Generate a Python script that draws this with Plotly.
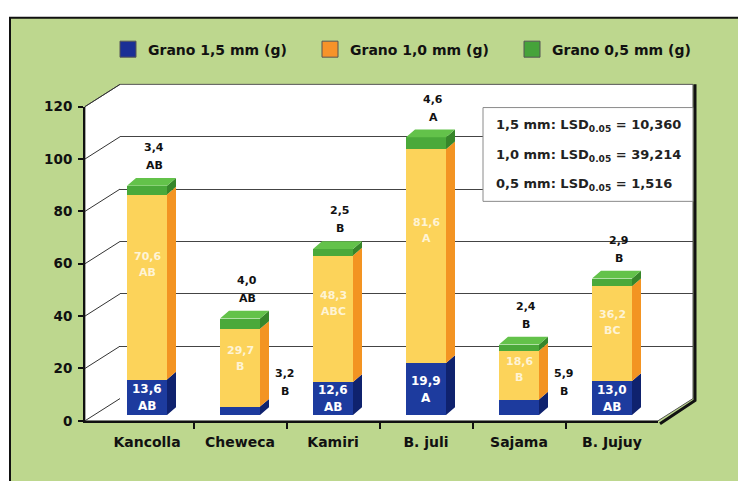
import plotly.graph_objects as go

# ---- data -------------------------------------------------------------
categories = ["Kancolla", "Cheweca", "Kamiri", "B. juli", "Sajama", "B. Jujuy"]
grano_15 = [13.6, 3.2, 12.6, 19.9, 5.9, 13.0]
grano_10 = [70.6, 29.7, 48.3, 81.6, 18.6, 36.2]
grano_05 = [3.4, 4.0, 2.5, 4.6, 2.4, 2.9]
letras_15 = ["AB", "B", "AB", "A", "B", "AB"]
letras_10 = ["AB", "B", "ABC", "A", "B", "BC"]
letras_05 = ["AB", "AB", "B", "A", "B", "B"]
series_names = ["Grano 1,5 mm (g)", "Grano 1,0 mm (g)", "Grano 0,5 mm (g)"]
lsd_lines = [("1,5 mm", "10,360"), ("1,0 mm", "39,214"), ("0,5 mm", "1,516")]
y_ticks = [0, 20, 40, 60, 80, 100, 120]

# ---- geometry (pixels) ------------------------------------------------
W, H = 738, 481
X0, X1 = 85, 658          # front plot box, left/right
Y0, Y1 = 427, 102         # front plot box, value 0 / value 120
DX, DY = 35, 23           # depth of the back wall
BAR_UP = 6                # bars stand slightly back on the floor
SIDE_PX, TOP_PX = 9, 8    # bar side / top face
STEP = 93                 # pixels per category
XMIN = -(147 - X0) / STEP
XMAX = XMIN + (X1 - X0) / STEP
YMAX = 120
PX_PER_UNIT = (Y0 - Y1) / YMAX
BAR_W = 0.43
DXU = SIDE_PX / STEP
DYU = TOP_PX / PX_PER_UNIT

FONT = "DejaVu Sans"


def px(x):
    return x / W


def py(y):
    return 1 - y / H


def fmt(v):
    return f"{v:.1f}".replace(".", ",")


front_col = ["#1d3b9e", "#fcd35a", "#4aa93a"]
side_col = ["#0f226e", "#f39422", "#37862a"]
top_col = "#63c24a"
legend_col = ["#1a2f95", "#f7932a", "#46a33a"]

fig = go.Figure()

# back wall subplot (grid only)
fig.add_trace(go.Scatter(x=[None], y=[None], xaxis="x", yaxis="y",
                         showlegend=False, hoverinfo="skip"))
# front axes subplot (axis lines, ticks, labels)
fig.add_trace(go.Scatter(x=[None], y=[None], xaxis="x2", yaxis="y2",
                         showlegend=False, hoverinfo="skip"))

# ---- stacked bars -----------------------------------------------------
xs = list(range(len(categories)))
stack = [grano_15, grano_10, grano_05]
bases = []
running = [0.0] * len(xs)
for vals in stack:
    bases.append(running[:])
    running = [r + v for r, v in zip(running, vals)]
totals = running

for k, vals in enumerate(stack):
    fig.add_trace(go.Bar(x=xs, y=vals, width=BAR_W, xaxis="x3", yaxis="y3",
                         marker=dict(color=front_col[k], line=dict(width=0)),
                         showlegend=False, hoverinfo="skip"))
    # right side faces
    sx, sy = [], []
    for i in xs:
        b, t = bases[k][i], bases[k][i] + vals[i]
        r = i + BAR_W / 2
        sx += [r, r + DXU, r + DXU, r, r, None]
        sy += [b, b + DYU, t + DYU, t, b, None]
    fig.add_trace(go.Scatter(x=sx, y=sy, xaxis="x3", yaxis="y3", mode="lines",
                             fill="toself", fillcolor=side_col[k],
                             line=dict(width=0, color=side_col[k]),
                             showlegend=False, hoverinfo="skip"))

# top faces
tx, ty = [], []
for i in xs:
    l, r, t = i - BAR_W / 2, i + BAR_W / 2, totals[i]
    tx += [l, r, r + DXU, l + DXU, l, None]
    ty += [t, t, t + DYU, t + DYU, t, None]
fig.add_trace(go.Scatter(x=tx, y=ty, xaxis="x3", yaxis="y3", mode="lines",
                         fill="toself", fillcolor=top_col,
                         line=dict(width=0, color=top_col),
                         showlegend=False, hoverinfo="skip"))

# legend entries
for name, col in zip(series_names, legend_col):
    fig.add_trace(go.Scatter(x=[None], y=[None], xaxis="x3", yaxis="y3",
                             mode="markers", name=name,
                             marker=dict(symbol="square", size=16, color=col,
                                         line=dict(width=1, color="#555"))))

# ---- shapes: green panel, 3D box, LSD box -----------------------------
shapes = []
shapes.append(dict(type="rect", xref="paper", yref="paper", layer="below",
                   x0=px(10), x1=px(760), y0=py(520), y1=py(10),
                   fillcolor="#bdd78e", line=dict(color="#111", width=2)))

white_path = (f"M {px(X0)} {py(Y0)} L {px(X0)} {py(Y1)} "
              f"L {px(X0 + DX)} {py(Y1 - DY)} L {px(X1 + DX)} {py(Y1 - DY)} "
              f"L {px(X1 + DX)} {py(Y0 - DY)} L {px(X1)} {py(Y0)} Z")
shapes.append(dict(type="path", path=white_path, xref="paper", yref="paper",
                   layer="below", fillcolor="white",
                   line=dict(color="#555", width=1)))
# dark edge on the right of the box
shadow_path = (f"M {px(X1 + DX + 2)} {py(Y1 - DY)} L {px(X1 + DX + 2)} {py(Y0 - DY + 2)} "
               f"L {px(X1 + 2)} {py(Y0 + 3)}")
shapes.append(dict(type="path", path=shadow_path, xref="paper", yref="paper",
                   layer="below", line=dict(color="#111", width=3)))
# wall diagonals from each front tick to the back wall
for v in y_ticks:
    yp = Y0 - v * PX_PER_UNIT
    shapes.append(dict(type="line", xref="paper", yref="paper", layer="below",
                       x0=px(X0), y0=py(yp), x1=px(X0 + DX), y1=py(yp - DY),
                       line=dict(color="#333", width=1)))
# LSD box
shapes.append(dict(type="rect", xref="paper", yref="paper",
                   x0=px(483), x1=px(693), y0=py(200), y1=py(103),
                   fillcolor="white", line=dict(color="#8a8a8a", width=1)))

# ---- annotations ------------------------------------------------------
ann = []
bold = dict(family=FONT, weight="bold")
for i in xs:
    # 1,5 mm
    if grano_15[i] >= 10:
        yc = grano_15[i] / 2
        ann.append(dict(x=i, y=yc, xref="x3", yref="y3", text=fmt(grano_15[i]),
                        yshift=8, showarrow=False,
                        font=dict(size=12, color="white", **bold)))
        ann.append(dict(x=i, y=yc, xref="x3", yref="y3", text=letras_15[i],
                        yshift=-9, showarrow=False,
                        font=dict(size=12, color="white", **bold)))
    else:
        ann.append(dict(x=i + 0.48, y=0, xref="x3", yref="y3", text=fmt(grano_15[i]),
                        yshift=41, showarrow=False,
                        font=dict(size=11, color="#111", **bold)))
        ann.append(dict(x=i + 0.48, y=0, xref="x3", yref="y3", text=letras_15[i],
                        yshift=23, showarrow=False,
                        font=dict(size=11, color="#111", **bold)))
    # 1,0 mm
    yc = bases[1][i] + 0.62 * grano_10[i]
    ann.append(dict(x=i, y=yc, xref="x3", yref="y3", text=fmt(grano_10[i]),
                    yshift=8, showarrow=False,
                    font=dict(size=11, color="rgba(255,255,255,0.75)", **bold)))
    ann.append(dict(x=i, y=yc, xref="x3", yref="y3", text=letras_10[i],
                    yshift=-8, showarrow=False,
                    font=dict(size=11, color="rgba(255,255,255,0.75)", **bold)))
    # 0,5 mm
    ann.append(dict(x=i, y=totals[i], xref="x3", yref="y3", text=fmt(grano_05[i]),
                    xshift=7, yshift=38, showarrow=False,
                    font=dict(size=11, color="#111", **bold)))
    ann.append(dict(x=i, y=totals[i], xref="x3", yref="y3", text=letras_05[i],
                    xshift=7, yshift=20, showarrow=False,
                    font=dict(size=11, color="#111", **bold)))

for j, (lab, val) in enumerate(lsd_lines):
    ann.append(dict(x=px(494), y=py(122 + 30.5 * j), xref="paper", yref="paper",
                    xanchor="left", yanchor="middle", showarrow=False,
                    text=f"{lab}: LSD<sub>0.05</sub> = {val}",
                    font=dict(family=FONT, size=13, color="#222", weight="bold")))

# ---- layout -----------------------------------------------------------
fig.update_layout(
    width=W, height=H,
    margin=dict(l=0, r=0, t=0, b=0),
    paper_bgcolor="white",
    plot_bgcolor="rgba(0,0,0,0)",
    barmode="stack",
    bargap=0,
    shapes=shapes,
    annotations=ann,
    showlegend=True,
    legend=dict(orientation="h", x=px(108), y=py(43), xanchor="left",
                yanchor="middle", bgcolor="rgba(0,0,0,0)", traceorder="normal",
                entrywidth=157, entrywidthmode="pixels",
                font=dict(family=FONT, size=14, color="#111", weight="bold")),
    # back wall
    xaxis=dict(domain=[px(X0 + DX), px(X1 + DX)], range=[XMIN, XMAX],
               visible=False, fixedrange=True, anchor="y"),
    yaxis=dict(domain=[py(Y0 - DY), py(Y1 - DY)], range=[0, YMAX],
               tickvals=y_ticks, showticklabels=False, showgrid=True,
               gridcolor="#444", gridwidth=1, zeroline=False, showline=False,
               fixedrange=True, anchor="x"),
    # front axes
    xaxis2=dict(domain=[px(X0), px(X1)], range=[XMIN, XMAX], anchor="y2",
                tickvals=xs, ticktext=categories, ticks="",
                minor=dict(tickvals=[i + 0.5 for i in xs[:-1]], ticks="outside",
                           ticklen=6, tickcolor="#111", tickwidth=1.5),
                showline=True, linecolor="#111", linewidth=2, showgrid=False,
                zeroline=False, ticklabelstandoff=7,
                tickfont=dict(family=FONT, size=14, color="#111", weight="bold"),
                fixedrange=True),
    yaxis2=dict(domain=[py(Y0), py(Y1)], range=[0, YMAX], anchor="x2",
                tickvals=y_ticks, ticks="outside", ticklen=5, tickwidth=1.5,
                tickcolor="#111", showline=True, linecolor="#111", linewidth=2,
                showgrid=False, zeroline=False, ticklabelstandoff=3,
                tickfont=dict(family=FONT, size=13.5, color="#111", weight="bold"),
                fixedrange=True),
    # bars
    xaxis3=dict(domain=[px(X0), px(X1)], range=[XMIN, XMAX], anchor="y3",
                visible=False, fixedrange=True),
    yaxis3=dict(domain=[py(Y0 - BAR_UP), py(Y1 - BAR_UP)], range=[0, YMAX],
                anchor="x3", visible=False, fixedrange=True),
)

fig.write_html("out.html")
